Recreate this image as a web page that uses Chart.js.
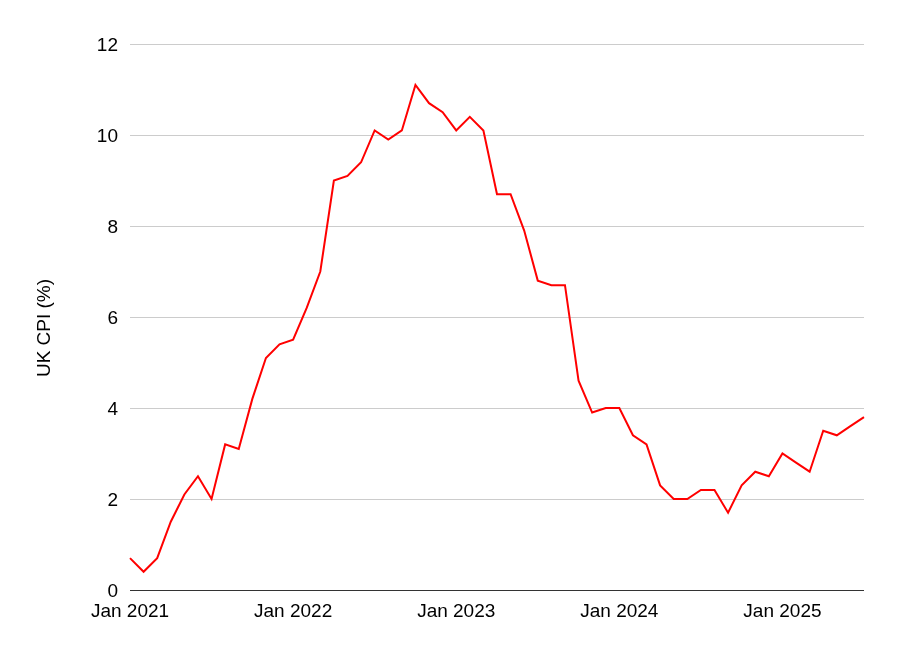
<!DOCTYPE html>
<html>
<head>
<meta charset="utf-8">
<script src="https://cdn.jsdelivr.net/npm/chart.js@4"></script>
<style>
html,body{margin:0;padding:0;background:#fff;}
#wrap{width:897px;height:657px;}
</style>
</head>
<body>
<div id="wrap"><canvas id="c" width="897" height="657"></canvas></div>
<script>
const months = [
 "Jan 2021","Feb 2021","Mar 2021","Apr 2021","May 2021","Jun 2021","Jul 2021","Aug 2021","Sep 2021","Oct 2021","Nov 2021","Dec 2021",
 "Jan 2022","Feb 2022","Mar 2022","Apr 2022","May 2022","Jun 2022","Jul 2022","Aug 2022","Sep 2022","Oct 2022","Nov 2022","Dec 2022",
 "Jan 2023","Feb 2023","Mar 2023","Apr 2023","May 2023","Jun 2023","Jul 2023","Aug 2023","Sep 2023","Oct 2023","Nov 2023","Dec 2023",
 "Jan 2024","Feb 2024","Mar 2024","Apr 2024","May 2024","Jun 2024","Jul 2024","Aug 2024","Sep 2024","Oct 2024","Nov 2024","Dec 2024",
 "Jan 2025","Feb 2025","Mar 2025","Apr 2025","May 2025","Jun 2025","Jul 2025"
];
const cpi = [
 0.7,0.4,0.7,1.5,2.1,2.5,2.0,3.2,3.1,4.2,5.1,5.4,
 5.5,6.2,7.0,9.0,9.1,9.4,10.1,9.9,10.1,11.1,10.7,10.5,
 10.1,10.4,10.1,8.7,8.7,7.9,6.8,6.7,6.7,4.6,3.9,4.0,
 4.0,3.4,3.2,2.3,2.0,2.0,2.2,2.2,1.7,2.3,2.6,2.5,
 3.0,2.8,2.6,3.5,3.4,3.6,3.8
];
const yTicks = [0,2,4,6,8,10,12];
const yTitle = "UK CPI (%)";

const font = {family:"'Liberation Sans', Arial, sans-serif", size:19};

const yTitlePlugin = {
  id:'yTitlePlugin',
  afterDraw(chart){
    const ctx = chart.ctx;
    const area = chart.chartArea;
    ctx.save();
    ctx.translate(45, (area.top + area.bottom)/2 + 11);
    ctx.rotate(-Math.PI/2);
    ctx.font = font.size + "px " + font.family;
    ctx.fillStyle = '#000';
    ctx.textAlign = 'center';
    ctx.textBaseline = 'middle';
    ctx.fillText(yTitle, 0, 0);
    ctx.restore();
  }
};

new Chart(document.getElementById('c'), {
  type:'line',
  data:{labels:months, datasets:[{data:cpi, borderColor:'#ff0000', borderWidth:2, pointRadius:0, tension:0, fill:false}]},
  plugins:[yTitlePlugin],
  options:{
    responsive:false, animation:false, devicePixelRatio:1,
    layout:{padding:{top:44,right:33,bottom:0,left:0}},
    plugins:{legend:{display:false}, tooltip:{enabled:false}},
    scales:{
      x:{
        type:'category', offset:false,
        grid:{display:false, drawTicks:false},
        border:{display:false},
        ticks:{autoSkip:false, maxRotation:0, minRotation:0, padding:10, color:'#000', font:font,
          callback:function(v,i){ return i%12===0 ? months[i] : ''; }},
        afterFit:function(s){ s.height = 67; }
      },
      y:{
        min:0, max:12,
        afterBuildTicks:function(s){ s.ticks = yTicks.map(v=>({value:v})); },
        grid:{color:function(ctx){ return ctx.tick && ctx.tick.value===0 ? '#333333' : '#cccccc'; }, lineWidth:1, drawTicks:false},
        border:{display:false},
        ticks:{padding:12, labelOffset:1.5, color:'#000', font:font},
        title:{display:false},
        afterFit:function(s){ s.width = 130; }
      }
    }
  }
});
</script>
</body>
</html>
